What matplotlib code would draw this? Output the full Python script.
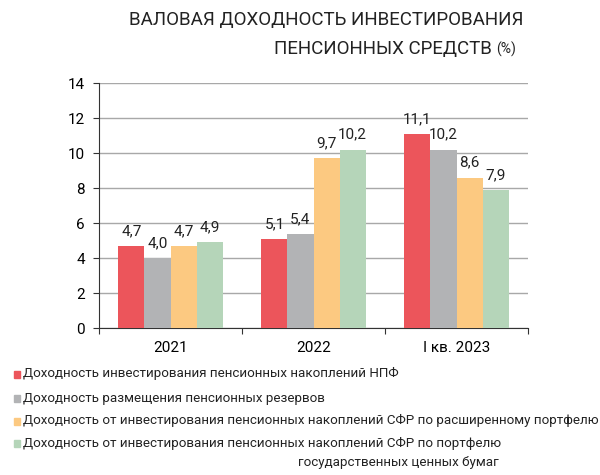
import matplotlib
matplotlib.use("Agg")
from matplotlib import pyplot as plt
from matplotlib.patches import Rectangle
import numpy as np

plt.rcParams['font.family'] = ['Roboto', 'DejaVu Sans']

periods = ['2021', '2022', 'I кв. 2023']
npf = [4.7, 5.1, 11.1]
reserves = [4.0, 5.4, 10.2]
sfr_wide = [4.7, 9.7, 8.6]
sfr_gov = [4.9, 10.2, 7.9]

series = [npf, reserves, sfr_wide, sfr_gov]
names = ['Доходность инвестирования пенсионных накоплений НПФ',
         'Доходность размещения пенсионных резервов',
         'Доходность от инвестирования пенсионных накоплений СФР по расширенному портфелю',
         'Доходность от инвестирования пенсионных накоплений СФР по портфелю']
colors = ['#EC555B', '#B2B3B5', '#FCC981', '#B5D5B9']

fig = plt.figure(figsize=(6, 4.75), dpi=100)
ax = fig.add_axes([0.165, 0.309, 0.715, 0.516])

x = np.arange(len(periods))
w = 0.182
for i, vals in enumerate(series):
    pos = x + (i - 1.5) * w
    ax.bar(pos, vals, width=w, color=colors[i], zorder=3)
    for p, v in zip(pos, vals):
        ax.text(p, v + 0.45, f'{v:.1f}'.replace('.', ','), ha='center', va='bottom',
                fontsize=11, color='#222222')

ax.set_xlim(-0.5, 2.5)
ax.set_ylim(0, 14)
ax.set_yticks(range(0, 15, 2))
ax.yaxis.grid(True, color='#A8A8A8', linewidth=1, zorder=0)
ax.set_xticks([-0.5, 0.5, 1.5, 2.5])
ax.set_xticklabels([])
ax.set_xticks(x, minor=True)
ax.set_xticklabels(periods, minor=True)
ax.tick_params(axis='x', which='minor', length=0, labelsize=11, pad=9)
ax.tick_params(axis='x', which='major', length=4, direction='out', color='#333333')
ax.tick_params(axis='y', length=4, direction='out', labelsize=11, color='#333333', pad=6)
for s in ['top', 'right']:
    ax.spines[s].set_visible(False)
ax.spines['left'].set_color('#333333')
ax.spines['bottom'].set_color('#333333')

# title
fig.text(0.872, 0.958, 'ВАЛОВАЯ ДОХОДНОСТЬ ИНВЕСТИРОВАНИЯ', ha='right', va='center',
         fontsize=13.5, color='#222222')
fig.text(0.82, 0.897, 'ПЕНСИОННЫХ СРЕДСТВ', ha='right', va='center',
         fontsize=13.5, color='#222222')
fig.text(0.827, 0.897, '(%)', ha='left', va='center', fontsize=10, color='#222222')

# legend
ys = [0.213, 0.162, 0.114, 0.067]
for name, c, yy in zip(names, colors, ys):
    fig.add_artist(Rectangle((0.023, yy - 0.009), 0.011, 0.015, color=c,
                             transform=fig.transFigure))
    fig.text(0.038, yy, name, ha='left', va='center', fontsize=9.6, color='#222222')
fig.text(0.497, 0.027, 'государственных ценных бумаг', ha='left', va='center',
         fontsize=9.6, color='#222222')

fig.savefig('out.png', dpi=100)
